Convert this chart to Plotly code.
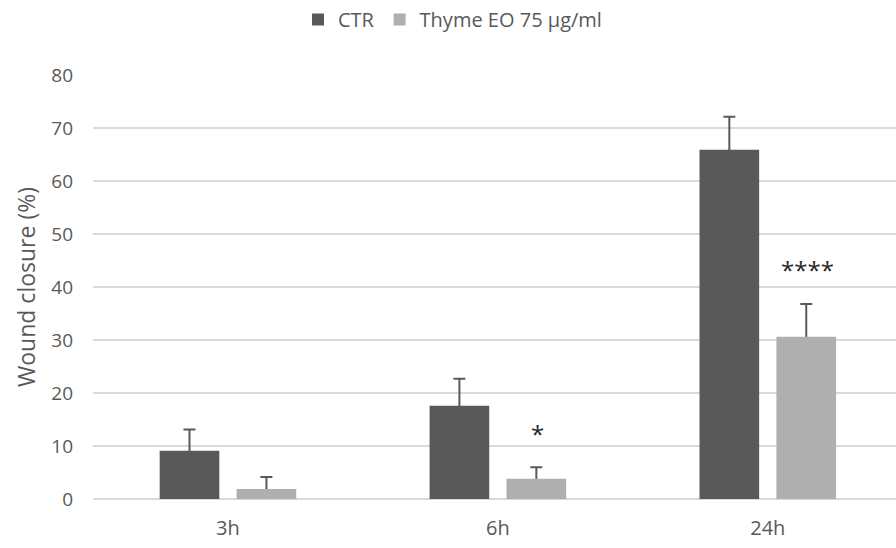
import plotly.graph_objects as go

categories = ["3h", "6h", "24h"]
ctr_values = [9.1, 17.6, 65.9]
ctr_err = [4.0, 5.1, 6.2]
thyme_values = [1.9, 3.8, 30.6]
thyme_err = [2.25, 2.2, 6.2]
sig_labels = ["", "*", "****"]
y_ticks = [0, 10, 20, 30, 40, 50, 60, 70, 80]

FONT = "Open Sans, Liberation Sans, sans-serif"
GRAY_TXT = "#595959"
CTR_COLOR = "#595959"
THY_COLOR = "#afafaf"
ERR_COLOR = "#595959"
BAR_W = 0.221
CTR_OFF = -0.253
THY_OFF = 0.032
HIDE = 0.35  # keeps the error-bar foot inside the bar

fig = go.Figure()
# error bars first (transparent bars), real bars drawn on top so only the upper whisker shows
for vals, err, off in [(ctr_values, ctr_err, CTR_OFF), (thyme_values, thyme_err, THY_OFF)]:
    fig.add_trace(go.Bar(
        x=categories, y=vals, width=BAR_W, offset=off, showlegend=False,
        hoverinfo="skip",
        marker=dict(color="rgba(0,0,0,0)", line=dict(width=0)),
        error_y=dict(type="data", array=err, symmetric=False,
                     arrayminus=[HIDE] * len(err),
                     color=ERR_COLOR, thickness=2, width=6),
    ))
fig.add_trace(go.Bar(
    name="CTR", x=categories, y=ctr_values, width=BAR_W, offset=CTR_OFF,
    marker=dict(color=CTR_COLOR, line=dict(width=0)),
))
fig.add_trace(go.Bar(
    name="Thyme EO 75 µg/ml", x=categories, y=thyme_values, width=BAR_W, offset=THY_OFF,
    marker=dict(color=THY_COLOR, line=dict(width=0)),
))

for c, v, e, s in zip(categories, thyme_values, thyme_err, sig_labels):
    if s:
        fig.add_annotation(x=c, y=v + e + 7, text=s, showarrow=False,
                           xshift=40, yshift=-3,
                           font=dict(family=FONT, size=24, color="#262626"))

fig.update_layout(
    width=896, height=548,
    margin=dict(l=93, r=0, t=75, b=49),
    paper_bgcolor="white", plot_bgcolor="white",
    barmode="overlay",
    font=dict(family=FONT, size=19, color=GRAY_TXT),
    legend=dict(orientation="h", x=0.505, xref="container", xanchor="center",
                y=1.0, yref="container", yanchor="top",
                font=dict(size=20, color=GRAY_TXT),
                traceorder="normal", itemwidth=30, bgcolor="rgba(0,0,0,0)"),
    showlegend=True,
)
fig.update_xaxes(range=[-0.5, 2.475], showgrid=False, zeroline=False,
                 showline=False, ticks="", ticklabelstandoff=15,
                 tickfont=dict(size=20, color=GRAY_TXT))
fig.update_yaxes(range=[0, 80], tickvals=y_ticks, showgrid=True,
                 gridcolor="#d9d9d9", gridwidth=2, zeroline=True,
                 zerolinecolor="#d9d9d9", zerolinewidth=2, showline=False,
                 ticks="", ticklabelstandoff=19,
                 tickfont=dict(size=19, color=GRAY_TXT),
                 title=dict(text="Wound closure (%)", standoff=9,
                            font=dict(size=23, color=GRAY_TXT)))

fig.write_html("out.html")
